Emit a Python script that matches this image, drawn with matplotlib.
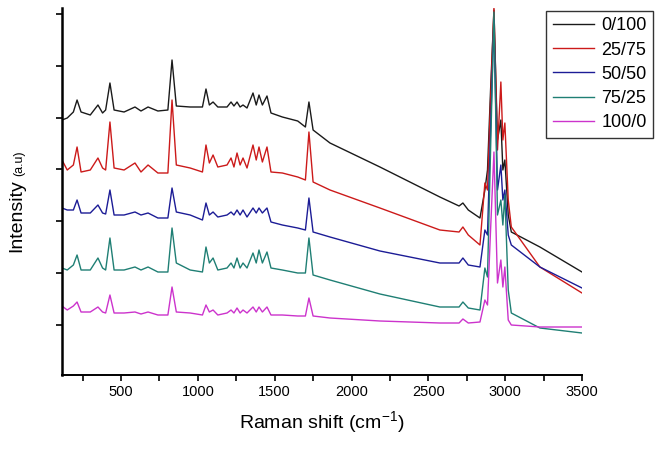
import numpy as np
import matplotlib
matplotlib.use("Agg")
from matplotlib import pyplot as plt
from matplotlib.ticker import MultipleLocator, NullFormatter

plt.rcParams['font.family'] = ['Liberation Sans', 'DejaVu Sans']

# Raman shift (cm-1) sample points
shift = [116, 150, 190, 214, 240, 300, 350, 380, 400, 428,
         455, 520, 591, 630, 676, 740, 805, 832, 860, 950,
         1030, 1053, 1075, 1099, 1130, 1190, 1216, 1235, 1255, 1275,
         1294, 1320, 1359, 1380, 1398, 1420, 1450, 1476, 1550, 1650,
         1700, 1723, 1750, 1860, 2185, 2575, 2700, 2725, 2760, 2836,
         2868, 2885, 2905, 2927, 2950, 2972, 2985, 2998, 3020, 3040,
         3226, 3500]

# intensities (a.u., stacked as in the original)
int_0_100 = [255, 257, 263, 275, 263, 260, 270, 262, 265, 292,
             265, 263, 268, 264, 268, 264, 265, 315, 269, 268,
             268, 286, 270, 273, 268, 268, 273, 269, 273, 268,
             270, 267, 282, 270, 280, 270, 279, 262, 258, 254,
             248, 273, 245, 232, 208, 178, 169, 172, 165, 157,
             185, 205, 285, 365, 235, 255, 205, 215, 160, 143,
             128, 103]
int_25_75 = [215, 205, 210, 228, 203, 205, 217, 207, 205, 253,
             207, 205, 212, 203, 210, 202, 202, 275, 210, 207,
             203, 230, 212, 220, 208, 210, 217, 208, 222, 210,
             217, 207, 230, 215, 228, 213, 228, 203, 202, 198,
             195, 243, 193, 185, 167, 145, 143, 148, 140, 130,
             192, 185, 275, 367, 225, 293, 235, 252, 175, 148,
             108, 82]
int_50_50 = [167, 165, 165, 175, 162, 162, 170, 162, 161, 185,
             160, 160, 163, 160, 162, 157, 157, 187, 163, 160,
             155, 172, 160, 163, 158, 160, 163, 160, 165, 160,
             165, 158, 167, 162, 167, 162, 167, 153, 150, 147,
             145, 177, 143, 138, 124, 112, 112, 117, 110, 108,
             145, 140, 245, 355, 185, 210, 175, 185, 140, 130,
             108, 87]
int_75_25 = [107, 105, 110, 120, 105, 105, 117, 107, 105, 137,
             105, 105, 108, 105, 108, 103, 103, 147, 112, 105,
             103, 128, 112, 117, 105, 107, 112, 107, 117, 107,
             112, 107, 122, 112, 125, 112, 123, 107, 105, 102,
             102, 137, 100, 95, 81, 68, 68, 73, 67, 65,
             107, 98, 225, 363, 160, 175, 150, 180, 85, 62,
             47, 42]
int_100_0 = [69, 65, 69, 73, 63, 63, 68, 63, 62, 80,
             62, 62, 63, 61, 63, 60, 60, 88, 63, 62,
             60, 70, 63, 65, 60, 62, 65, 62, 67, 62,
             65, 62, 68, 63, 68, 63, 68, 60, 60, 59,
             59, 77, 59, 57, 54, 52, 52, 56, 52, 53,
             75, 70, 145, 223, 92, 115, 88, 108, 55, 50,
             48, 48]

labels = ['0/100', '25/75', '50/50', '75/25', '100/0']
colors = ['#1a1a1a', '#cc1a1a', '#1c1c96', '#1f7f74', '#cc33cc']
series = [int_0_100, int_25_75, int_50_50, int_75_25, int_100_0]

fig = plt.figure(figsize=(6.63, 4.49), dpi=100)
ax = fig.add_axes([62 / 663, 74 / 449, 520 / 663, 367 / 449])

for vals, lab, col in zip(series, labels, colors):
    ax.plot(shift, vals, color=col, lw=1.0, label=lab)

ax.set_xlim(116, 3500)
ax.set_ylim(0, 367)
ax.xaxis.set_major_locator(MultipleLocator(500))
ax.xaxis.set_minor_locator(MultipleLocator(250))
ax.set_yticks([50, 102, 154, 206, 257, 309, 361])
ax.yaxis.set_major_formatter(NullFormatter())
ax.tick_params(axis='both', which='both', direction='out', length=4,
               width=1.2, labelsize=10.5, pad=3)

for side in ['top', 'right']:
    ax.spines[side].set_visible(False)
ax.spines['left'].set_linewidth(1.8)
ax.spines['bottom'].set_linewidth(1.4)

ax.set_xlabel('Raman shift (cm$^{\\mathregular{-1}}$)', fontsize=14, labelpad=8)
fig.text(17 / 663, 1 - 216 / 449, 'Intensity', rotation=90, fontsize=14,
         ha='center', va='center')
fig.text(19 / 663, 1 - 163 / 449, '(a.u)', rotation=90, fontsize=9,
         ha='center', va='center')

leg = ax.legend(loc='upper right', bbox_to_anchor=(653 / 663, 1 - 11 / 449),
                bbox_transform=fig.transFigure, borderaxespad=0,
                fontsize=13, handlelength=2.3, labelspacing=0.4,
                borderpad=0.35, handletextpad=0.4,
                fancybox=False, framealpha=1)
leg.get_frame().set_edgecolor('#333333')
leg.get_frame().set_linewidth(1.0)

fig.savefig('out.png', dpi=100)
